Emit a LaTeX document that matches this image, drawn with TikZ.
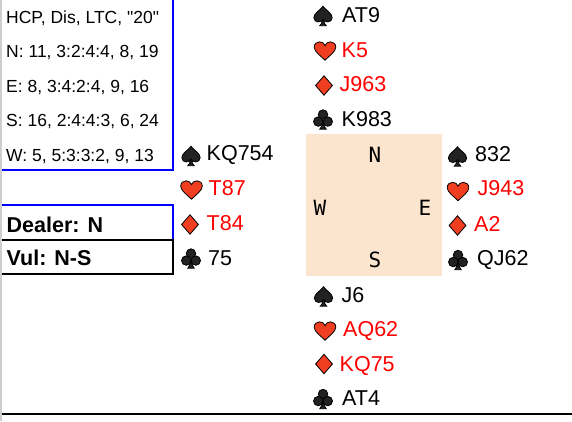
\documentclass[tikz,border=0pt]{standalone}
\usepackage{fontspec}
\setmainfont{Liberation Sans}
\newfontfamily\seatfont{DejaVu Sans Mono}
\usetikzlibrary{positioning}
\definecolor{suitred}{RGB}{240,62,32}
\definecolor{suitblack}{RGB}{34,34,34}
\definecolor{tablebg}{RGB}{252,229,206}
\definecolor{stripgray}{RGB}{206,206,206}
\tikzset{card/.style={anchor=base west,inner sep=0pt,text=black,font=\fontsize{21.5}{26}\selectfont},
redcard/.style={card,text=red},
info/.style={anchor=base west,inner sep=0pt,font=\fontsize{17.5}{20}\selectfont},
boxlabel/.style={anchor=base west,inner sep=0pt,font=\bfseries\fontsize{21.5}{26}\selectfont},
seat/.style={anchor=base,inner sep=0pt,font=\seatfont\fontsize{21}{25}\selectfont},
suitline/.style={draw=black,line width=0.8pt},
every pic/.style={scale=1.08}}
\tikzset{spade/.pic={
  \filldraw[suitline,fill=suitblack] (0,-9) .. controls (-3,-5) and (-8.5,-2.5) .. (-8.5,1.5)
    .. controls (-8.5,4) and (-6.5,5.5) .. (-4.5,5.5) .. controls (-2.5,5.5) and (-1,4.5) .. (-0.6,3.5)
    .. controls (-0.8,6) and (-1.6,8) .. (-3,9) -- (3,9) .. controls (1.6,8) and (0.8,6) .. (0.6,3.5)
    .. controls (1,4.5) and (2.5,5.5) .. (4.5,5.5) .. controls (6.5,5.5) and (8.5,4) .. (8.5,1.5)
    .. controls (8.5,-2.5) and (3,-5) .. (0,-9) -- cycle;},
heart/.pic={
  \filldraw[suitline,fill=suitred] (0,8.5) .. controls (-4,4.5) and (-10,0.5) .. (-10,-3.5)
    .. controls (-10,-6.8) and (-7.5,-8.5) .. (-5,-8.5) .. controls (-2.5,-8.5) and (-0.6,-7) .. (0,-5)
    .. controls (0.6,-7) and (2.5,-8.5) .. (5,-8.5) .. controls (7.5,-8.5) and (10,-6.8) .. (10,-3.5)
    .. controls (10,0.5) and (4,4.5) .. (0,8.5) -- cycle;},
diamond/.pic={
  \filldraw[suitline,fill=suitred] (0,-9) -- (7.8,0) -- (0,9) -- (-7.8,0) -- cycle;},
club/.pic={
  \filldraw[suitline,fill=suitblack] (-0.6,2) .. controls (-0.8,5.5) and (-1.6,7.8) .. (-3,9) -- (3,9)
    .. controls (1.6,7.8) and (0.8,5.5) .. (0.6,2) -- cycle;
  \filldraw[suitline,fill=suitblack] (0,-4.6) circle (4.4pt);
  \filldraw[suitline,fill=suitblack] (-4.4,1.9) circle (4.4pt);
  \filldraw[suitline,fill=suitblack] (4.4,1.9) circle (4.4pt);}}
\begin{document}
\begin{tikzpicture}[x=1pt,y=-1pt]
  \useasboundingbox (0,0) rectangle (572,421);
  \fill[stripgray] (0,0) rectangle (2,421);

  % info and dealer boxes
  \draw[blue,line width=1.6pt] (2,170) -- (173,170) -- (173,0);
  \draw[blue,line width=1.6pt] (2,205) -- (173,205) -- (173,240);
  \draw[black,line width=1.6pt] (2,240) -- (173,240) -- (173,274) -- (2,274);
  \node[info] (hdr) at (6,23) {HCP, Dis, LTC, \textquotedbl 20\textquotedbl};
  \node[info] (infoN) at (6,57.5) {N: 11, 3:2:4:4, 8, 19};
  \node[info] (infoE) at (6,92) {E: 8, 3:4:2:4, 9, 16};
  \node[info] (infoS) at (6,126.5) {S: 16, 2:4:4:3, 6, 24};
  \node[info] (infoW) at (6,161) {W: 5, 5:3:3:2, 9, 13};
  \node[boxlabel] (dealer) at (6.5,232) {Dealer: N};
  \node[boxlabel] (vul) at (6.5,265.5) {Vul: N-S};

  % table
  \fill[tablebg] (306,134) rectangle (442,276);
  \node[seat] (seatN) at (375,162) {N};
  \node[seat] (seatW) at (320,215) {W};
  \node[seat] (seatE) at (425,215) {E};
  \node[seat] (seatS) at (375,267) {S};

  % north
  \pic at (323,16) {spade};
  \pic at (325,51) {heart};
  \pic at (324,85.5) {diamond};
  \pic at (323,119.5) {club};
  \node[card] (nS) at (342,22.5) {AT9};
  \node[redcard] (nH) at (341.5,57) {K5};
  \node[redcard] (nD) at (339.5,91.7) {J963};
  \node[card] (nC) at (341.5,126.3) {K983};

  % west
  \pic at (191,156) {spade};
  \pic at (191.5,190) {heart};
  \pic at (190,224.5) {diamond};
  \pic at (191,258.5) {club};
  \node[card] (wS) at (206.5,160.5) {KQ754};
  \node[redcard] (wH) at (208.5,195.3) {T87};
  \node[redcard] (wD) at (206.5,230.5) {T84};
  \node[card] (wC) at (208,265) {75};

  % east
  \pic at (457.5,156.5) {spade};
  \pic at (458,191.5) {heart};
  \pic at (457.5,225.5) {diamond};
  \pic at (458,260) {club};
  \node[card] (eS) at (475,161.5) {832};
  \node[redcard] (eH) at (477.5,195.8) {J943};
  \node[redcard] (eD) at (474,231.5) {A2};
  \node[card] (eC) at (477,265.5) {QJ62};

  % south
  \pic at (323.5,296.5) {spade};
  \pic at (325,331) {heart};
  \pic at (324,364) {diamond};
  \pic at (323,399) {club};
  \node[card] (sS) at (341.5,302) {J6};
  \node[redcard] (sH) at (343,336.6) {AQ62};
  \node[redcard] (sD) at (339.5,371.2) {KQ75};
  \node[card] (sC) at (342,405.8) {AT4};

  \draw[black,line width=2.7pt] (2,414) -- (572,414);
\end{tikzpicture}
\end{document}
